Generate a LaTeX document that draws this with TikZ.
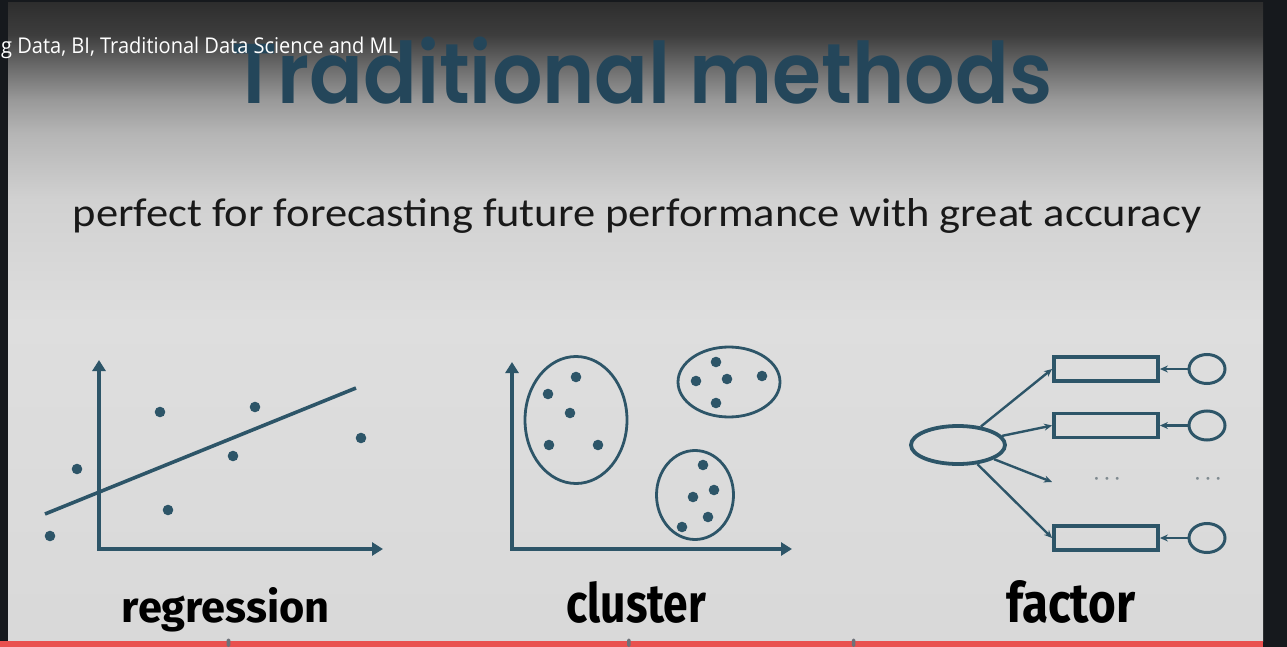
\documentclass[tikz,border=0pt]{standalone}
\usepackage{fontspec}
\usepackage{graphicx}
\usetikzlibrary{arrows.meta,shapes.geometric,positioning}
\newfontfamily\titlefont{Poppins SemiBold}
\newfontfamily\crumbfont{Open Sans}
\newfontfamily\leadfont{Carlito}
\newfontfamily\labelfont{Fira Sans}
\definecolor{frame}{HTML}{16191D}
\definecolor{inkblue}{HTML}{2D5568}
\definecolor{titleblue}{HTML}{24465A}
\definecolor{barred}{HTML}{E9514F}
\definecolor{tickgray}{HTML}{6E7279}
\definecolor{dotgray}{HTML}{7F8A90}
% screen background; the path box is mapped onto 25bp..75bp
\pgfdeclareverticalshading{screenfade}{100bp}{
  color(0bp)=(black!15); color(25bp)=(black!15); color(50bp)=(black!13);
  color(59.6bp)=(black!18); color(64.8bp)=(black!29); color(67.4bp)=(black!40);
  color(70bp)=(black!58); color(72.5bp)=(black!76); color(75bp)=(black!82);
  color(100bp)=(black!82)}

\begin{document}
\begin{tikzpicture}[x=1pt,y=-1pt,
  axisline/.style={draw=inkblue, line width=3.6pt,
    {Triangle[length=11pt,width=13pt]}-{Triangle[length=11pt,width=13pt]}},
  fitline/.style={draw=inkblue, line width=3.6pt},
  blob/.style={draw=inkblue, line width=2.8pt},
  latent/.style={ellipse, draw=inkblue, line width=3.8pt, minimum width=94pt,
    minimum height=38pt, inner sep=0pt},
  item/.style={rectangle, draw=inkblue, line width=3.8pt, minimum width=104pt,
    minimum height=24pt, inner sep=0pt},
  errcirc/.style={ellipse, draw=inkblue, line width=3pt, minimum width=36pt,
    minimum height=29pt, inner sep=0pt},
  load/.style={draw=inkblue, line width=2.4pt, -{Stealth[length=8pt,width=7pt]}},
  word/.style={anchor=base west, inner sep=0pt},
  more/.style={anchor=base, text=dotgray, font=\fontsize{11}{11}\selectfont},
]
\useasboundingbox (0,0) rectangle (1287,647);

% frame and screen
\fill[frame] (0,0) rectangle (1287,647);
\shade[shading=screenfade] (8,3) rectangle (1263,641);

% title and caption
\node[word, text=titleblue] (title) at (231.7,103.5)
  {\resizebox{820pt}{66.5pt}{\titlefont Traditional methods}};
\node[word, text=white] (crumb) at (1,54)
  {\resizebox{397pt}{16.5pt}{\crumbfont g Data, BI, Traditional Data Science and ML}};
\node[word, text=black!90] (lead) at (72.5,226.7)
  {\resizebox{1128pt}{28pt}{\leadfont perfect for forecasting future performance with great accuracy}};

% regression
\coordinate (rtop) at (99,360);
\coordinate (rorig) at (99,549);
\coordinate (rright) at (383,549);
\draw[axisline] (rtop) -- (rorig) -- (rright);
\draw[fitline] (45,514) -- (356,388);
\foreach \p in {(50,536),(77,469),(160,412),(168,510),(255,407),(233,456),(361,438)}
  \fill[inkblue] \p circle[radius=5.3pt];

% cluster
\coordinate (ctop) at (512,362);
\coordinate (corig) at (512,549);
\coordinate (cright) at (792,549);
\draw[axisline] (ctop) -- (corig) -- (cright);
\draw[blob] (576,420) ellipse[x radius=51pt, y radius=63.5pt];
\draw[blob] (729,382) ellipse[x radius=51pt, y radius=35pt];
\draw[blob] (695,495) ellipse[x radius=38.5pt, y radius=44.5pt];
\foreach \p in {(576,377),(548,394),(570,413),(549,445),(598,445),
                (716,362),(696,381),(727,379),(762,376),(716,403),
                (703,465),(714,490),(693,497),(708,517),(682,527)}
  \fill[inkblue] \p circle[radius=5.3pt];

% factor
\node[latent] (lat) at (958,445) {};
\node[item] (ind1) at (1106,369) {};
\node[item] (ind2) at (1106,425.5) {};
\node[item] (ind3) at (1106,538) {};
\node[errcirc] (err1) at (1207,369) {};
\node[errcirc] (err2) at (1207,425.5) {};
\node[errcirc] (err3) at (1207,538) {};
\coordinate (gap) at (1052,482);
\node[more] (more1) at (1107,481) {\textbullet\hspace{2pt}\textbullet\hspace{2pt}\textbullet};
\node[more] (more2) at (1208,481) {\textbullet\hspace{2pt}\textbullet\hspace{2pt}\textbullet};
\draw[load] (lat) -- (ind1.west);
\draw[load] (lat) -- (ind2.west);
\draw[load] (lat) -- (gap);
\draw[load] (lat) -- (ind3.west);
\draw[load] (err1) -- (ind1);
\draw[load] (err2) -- (ind2);
\draw[load] (err3) -- (ind3);

% labels
\node[word] (lreg) at (121.7,622) {\resizebox{208pt}{35pt}{\labelfont\bfseries regression}};
\node[word] (lclu) at (566,622) {\resizebox{140pt}{41pt}{\labelfont\bfseries cluster}};
\node[word] (lfac) at (1006,622) {\resizebox{129pt}{42pt}{\labelfont\bfseries factor}};

% progress bar
\fill[barred] (0,641) rectangle (1263,647);
\foreach \t in {228.5,628.8,853.6}
  \fill[tickgray, rounded corners=1.5pt] (\t-1.8,638.5) rectangle (\t+1.8,647);
\end{tikzpicture}
\end{document}
